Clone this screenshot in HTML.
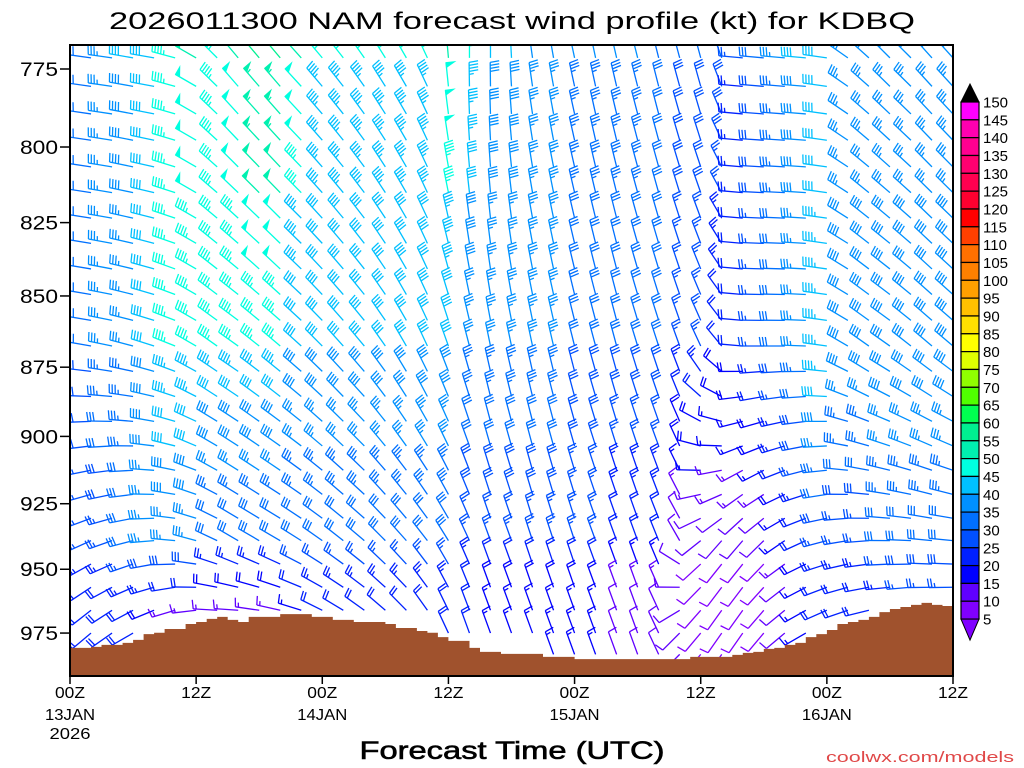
<!DOCTYPE html>
<html><head><meta charset="utf-8"><style>
html,body{margin:0;padding:0;background:#fff;}
svg{display:block;font-family:"Liberation Sans",sans-serif;}
</style></head><body>
<svg id="chart" width="1024" height="768" viewBox="0 0 1024 768" xmlns="http://www.w3.org/2000/svg">
<defs><clipPath id="plotclip"><rect x="70" y="45" width="883" height="631"/></clipPath></defs>
<rect x="0" y="0" width="1024" height="768" fill="#fff"/>
<text x="512" y="29" text-anchor="middle" font-size="24" textLength="806" lengthAdjust="spacingAndGlyphs" fill="#000">2026011300 NAM forecast wind profile (kt) for KDBQ</text>
<g id="barbs" clip-path="url(#plotclip)"></g>
<g id="terrain"></g>
<rect x="70" y="45" width="883" height="631" fill="none" stroke="#000" stroke-width="2"/>
<g id="yaxis"></g>
<g id="xaxis"></g>
<text x="512" y="759" text-anchor="middle" font-size="25" textLength="305" lengthAdjust="spacingAndGlyphs" fill="#000" stroke="#000" stroke-width="0.6">Forecast Time (UTC)</text>
<text x="1014" y="762" text-anchor="end" font-size="15" textLength="188" lengthAdjust="spacingAndGlyphs" fill="#e04848">coolwx.com/models</text>
<g id="colorbar"></g>
</svg>
<script>
// ---- data ----
var hours = [0,2,4,6,8,10,12,14,16,18,20,22,24,26,28,30,32,34,36,38,40,42,44,46,48,50,52,54,56,58,60,62,64,66,68,70,72,74,76,78,80,82,84];
var levels = [771.5,780.5,789.3,797.8,806.5,815,823.5,832,840.7,849.5,858.5,867.5,876.5,885.5,894.5,903.5,912.5,921.5,930.5,939,948,957,966,975,983.5];
var anchorP = [775,870,940,970];
var topDir = [278,278,278,280,280,285,300,315,320,320,320,318,320,322,325,328,330,335,355,360,360,357,352,350,348,348,347,346,346,345,345,340,275,275,275,275,278,305,312,315,315,318,318];
var topSpd = [30,30,35,40,40,45,50,45,50,55,55,50,45,45,45,45,45,45,50,45,40,40,35,35,35,35,35,35,30,30,30,30,25,30,35,40,40,35,35,35,35,35,35];
var midDir = [280,280,282,285,288,292,300,305,305,308,310,312,315,318,320,325,330,335,340,345,348,348,348,347,346,345,345,343,342,340,335,320,275,270,270,272,278,300,305,305,308,310,310];
var midSpd = [30,30,35,35,40,45,45,45,45,45,45,40,40,40,40,40,40,40,40,35,35,35,35,35,30,30,30,30,30,25,25,20,20,25,30,35,45,40,40,40,40,40,40];
var lowDir = [240,245,250,255,265,275,285,295,300,300,300,302,305,308,310,315,318,322,328,335,340,340,342,342,342,340,340,340,338,330,230,220,220,225,235,245,255,260,265,270,272,275,275];
var lowSpd = [20,25,25,30,35,35,35,30,30,30,30,30,30,30,30,30,30,30,30,25,25,25,25,25,25,25,20,20,20,10,10,10,10,10,15,20,25,25,25,30,30,30,30];
var sfcDir = [230,230,235,240,245,250,260,270,270,275,280,285,295,300,305,310,315,325,335,340,340,340,340,340,340,340,340,340,335,225,220,215,215,220,230,240,245,250,255,260,260,265,265];
var sfcSpd = [15,20,20,20,15,10,10,10,10,10,10,15,20,20,20,20,20,20,20,20,15,15,15,15,15,15,10,10,10,10,8,8,8,8,10,15,20,20,20,20,25,25,25];
var sfcP = [980.9,980.9,980.5,979.7,979.7,978.9,977.7,975.4,974.9,973.4,973.4,971.4,970.6,969.4,968.6,969.8,970.6,968.6,968.6,968.6,967.5,967.5,967.5,968.6,968.6,969.8,969.8,970.6,970.6,970.6,971.4,973.0,973.0,974.2,974.9,976.6,978.1,978.1,980.9,982.5,982.5,983.3,983.3,983.3,983.3,984.5,984.5,984.5,985.4,985.4,985.4,985.4,985.4,985.4,985.4,985.4,985.4,985.4,985.4,984.5,984.5,984.5,984.5,983.7,982.9,982.5,981.3,980.9,979.7,978.9,976.6,975.4,973.8,971.4,970.6,969.8,968.6,966.7,965.5,964.7,963.9,963.1,963.9,964.3,965.1];
var yTicks = [775,800,825,850,875,900,925,950,975];
var xTickHours = [0,12,24,36,48,60,72,84];
var xTickLabels = ["00Z","12Z","00Z","12Z","00Z","12Z","00Z","12Z"];
var xDateLabels = ["13JAN","","14JAN","","15JAN","","16JAN",""];
var cbValues = [150,145,140,135,130,125,120,115,110,105,100,95,90,85,80,75,70,65,60,55,50,45,40,35,30,25,20,15,10,5];
var cbColors = ["#8000ff","#6000ff","#0000ff","#0020ff","#0050ff","#0070ff","#0090ff","#00c0ff","#00ffe0","#00f0b0","#00f090","#00ff50","#50ff00","#90ff00","#e0ff00","#ffff00","#ffe000","#ffc000","#ffa000","#ff8000","#ff7000","#ff4000","#ff0000","#ff0030","#ff0050","#ff0070","#ff0090","#ff00b0","#ff00ff"];

// ---- scales ----
var NS = "http://www.w3.org/2000/svg";
function xS(h){ return 70 + h * (883/84); }
function yS(p){ return 69 + 2457 * Math.log(p/775); }
function mk(tag, attrs, parent){ var e=document.createElementNS(NS,tag); for(var k in attrs) e.setAttribute(k, attrs[k]); parent.appendChild(e); return e; }
function spdColor(s){ var i=Math.floor(s/5)-1; if(i<0)i=0; if(i>cbColors.length-1)i=cbColors.length-1; return cbColors[i]; }
function sfcAt(h){ var i=Math.round(h); if(i<0)i=0; if(i>84)i=84; return sfcP[i]; }
function profile(ci, p){
  var ds=[topDir[ci],midDir[ci],lowDir[ci],sfcDir[ci]], ss=[topSpd[ci],midSpd[ci],lowSpd[ci],sfcSpd[ci]];
  if(p<=anchorP[0]) return [ds[0],ss[0]];
  if(p>=anchorP[3]) return [ds[3],ss[3]];
  for(var k=0;k<3;k++){ if(p<=anchorP[k+1]){ var t=(p-anchorP[k])/(anchorP[k+1]-anchorP[k]);
    var d0=ds[k], d1=ds[k+1]; var dd=d1-d0; if(dd>180)dd-=360; if(dd<-180)dd+=360;
    return [d0+dd*t, ss[k]+(ss[k+1]-ss[k])*t]; } }
}

// ---- barbs ----
var gB = document.getElementById('barbs');
hours.forEach(function(h, ci){
  levels.forEach(function(p){
    if(p >= sfcAt(h) - 0.3) return;
    var w = profile(ci, p), dir = w[0]*Math.PI/180, spd = Math.round(w[1]/5)*5;
    if(spd < 5) spd = 5;
    var ox = xS(h), oy = yS(p);
    var sx = Math.sin(dir), sy = -Math.cos(dir);
    var px = -sy, py = sx;
    var L = 24, col = spdColor(w[1]);
    var g = mk('g', {stroke: col, 'stroke-width': 1.3, fill: col}, gB);
    
    
    mk('line', {x1: ox, y1: oy, x2: ox+sx*L, y2: oy+sy*L}, g);
    var rem = spd, pos = L;
    var flags = Math.floor(rem/50); rem -= flags*50;
    for(var f=0; f<flags; f++){
      var ax=ox+sx*pos, ay=oy+sy*pos, bx=ox+sx*(pos-5), by=oy+sy*(pos-5);
      mk('polygon', {points: ax+','+ay+' '+(ax+px*9)+','+(ay+py*9)+' '+bx+','+by, 'stroke-width': 0.8}, g);
      pos -= 6;
    }
    var full = Math.floor(rem/10); rem -= full*10;
    for(var i=0; i<full; i++){
      var qx=ox+sx*pos, qy=oy+sy*pos;
      mk('line', {x1:qx, y1:qy, x2:qx+px*9+sx*1.5, y2:qy+py*9+sy*1.5}, g);
      pos -= 3;
    }
    if(rem >= 5){
      if(flags===0 && full===0) pos -= 3;
      var rx=ox+sx*pos, ry=oy+sy*pos;
      mk('line', {x1:rx, y1:ry, x2:rx+px*4.5+sx*0.8, y2:ry+py*4.5+sy*0.8}, g);
    }
  });
});

// ---- terrain ----
var gT = document.getElementById('terrain');
var d = 'M70,676';
for(var i=0;i<sfcP.length;i++){
  var x0 = xS(i), x1 = Math.min(xS(i+1), 953), y = yS(sfcP[i]);
  d += ' L'+x0.toFixed(1)+','+y.toFixed(1)+' L'+x1.toFixed(1)+','+y.toFixed(1);
}
d += ' L953,676 Z';
var tp = mk('path', {d: d, fill: '#a0522d'}, gT);



// ---- y axis ----
var gY = document.getElementById('yaxis');
yTicks.forEach(function(p){
  var y = yS(p);
  var t = mk('line', {x1:60, y1:y, x2:70, y2:y, stroke:'#000', 'stroke-width':1.5}, gY);
  
  
  var lb = mk('text', {x:58, y:y+7, 'text-anchor':'end', 'font-size':19, textLength:38, lengthAdjust:'spacingAndGlyphs', fill:'#000'}, gY);
  lb.textContent = String(p);
  
  
});

// ---- x axis ----
var gX = document.getElementById('xaxis');
xTickHours.forEach(function(h, i){
  var x = xS(h);
  var t = mk('line', {x1:x, y1:676, x2:x, y2:684, stroke:'#000', 'stroke-width':1.5}, gX);
  
  
  var lb = mk('text', {x:x, y:698, 'text-anchor':'middle', 'font-size':16, textLength:30, lengthAdjust:'spacingAndGlyphs', fill:'#000'}, gX);
  lb.textContent = xTickLabels[i];
  
  
  if(xDateLabels[i]){
    var dl = mk('text', {x:x, y:720, 'text-anchor':'middle', 'font-size':16, textLength:50, lengthAdjust:'spacingAndGlyphs', fill:'#000'}, gX);
    dl.textContent = xDateLabels[i];
    
    
  }
});
var yr = mk('text', {x:70, y:739, 'text-anchor':'middle', 'font-size':16, textLength:41, lengthAdjust:'spacingAndGlyphs', fill:'#000'}, gX);
yr.textContent = '2026';



// ---- colorbar ----
var gC = document.getElementById('colorbar');
var cbTop = 102, cbStep = 17.83, cbX = 961, cbW = 18;
var nBox = cbColors.length;
for(var k=0;k<nBox;k++){
  var yy = cbTop + k*cbStep;
  var r = mk('rect', {x:cbX, y:yy, width:cbW, height:cbStep, fill:cbColors[nBox-1-k], stroke:'#000', 'stroke-width':1.2}, gC);
  
  
}
var cbBot = cbTop + nBox*cbStep;
var tu = mk('polygon', {points: cbX+','+cbTop+' '+(cbX+cbW)+','+cbTop+' '+(cbX+cbW/2)+',84', fill:'#000', stroke:'#000'}, gC);


var td = mk('polygon', {points: cbX+','+cbBot+' '+(cbX+cbW)+','+cbBot+' '+(cbX+cbW/2)+','+(cbBot+21), fill:'#8000ff', stroke:'#000'}, gC);


cbValues.forEach(function(v, k){
  var yy = cbTop + k*cbStep;
  var lb = mk('text', {x:983, y:yy+5.5, 'font-size':15, fill:'#000'}, gC);
  lb.textContent = String(v);
  
  
});
</script>
</body></html>
